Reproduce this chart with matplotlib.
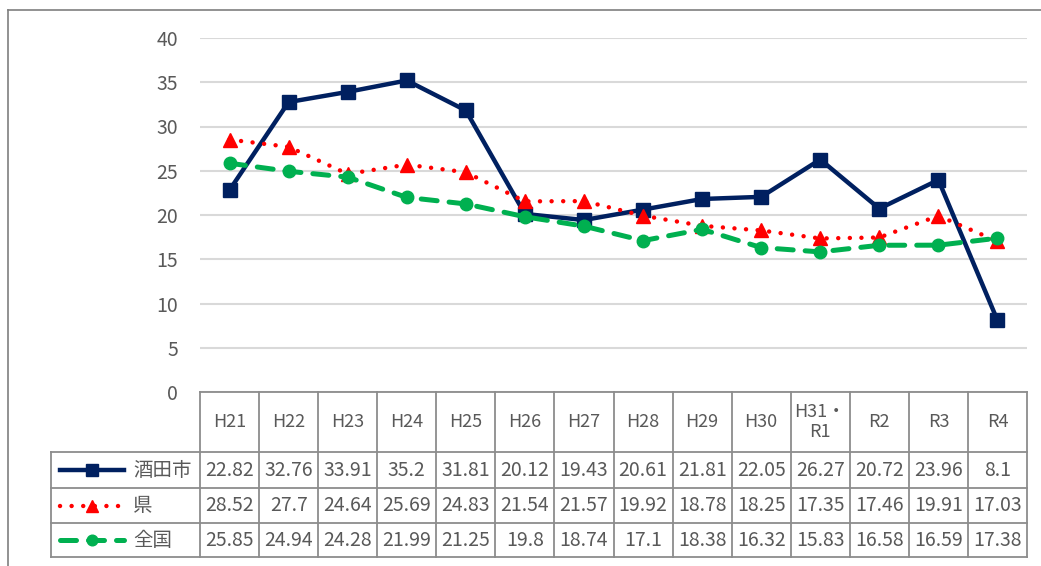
import matplotlib.pyplot as plt
from matplotlib.lines import Line2D

plt.rcParams['font.family'] = ['Noto Sans CJK JP', 'DejaVu Sans']

# data
years = ["H21", "H22", "H23", "H24", "H25", "H26", "H27", "H28", "H29", "H30",
         "H31・\nR1", "R2", "R3", "R4"]
sakata = [22.82, 32.76, 33.91, 35.2, 31.81, 20.12, 19.43, 20.61, 21.81, 22.05,
          26.27, 20.72, 23.96, 8.1]
ken = [28.52, 27.7, 24.64, 25.69, 24.83, 21.54, 21.57, 19.92, 18.78, 18.25,
       17.35, 17.46, 19.91, 17.03]
zenkoku = [25.85, 24.94, 24.28, 21.99, 21.25, 19.8, 18.74, 17.1, 18.38, 16.32,
           15.83, 16.58, 16.59, 17.38]
series_names = ["酒田市", "県", "全国"]
yticks = [0, 5, 10, 15, 20, 25, 30, 35, 40]

NAVY = "#002060"
RED = "#FF0000"
GREEN = "#00B050"
TXT = "#595959"
BORDER = "#8c8c8c"

W, H = 1041, 566
fig = plt.figure(figsize=(W / 100, H / 100), dpi=100)


def fx(px):
    return px / W


def fy(py):
    return 1 - py / H


# plot area in pixels
left, right, top, bottom = 200, 1027, 38, 392
ax = fig.add_axes([fx(left), fy(bottom), fx(right - left), (bottom - top) / H])

styles = [
    dict(color=NAVY, lw=3.2, marker="s", ms=9.5, linestyle="-"),
    dict(color=RED, lw=3.2, marker="^", ms=10, linestyle=(0, (0.01, 2.6)),
         dash_capstyle="round"),
    dict(color=GREEN, lw=3.6, marker="o", ms=9, linestyle=(0, (3.2, 2.4)),
         dash_capstyle="round"),
]
x = list(range(len(years)))
for vals, st in zip([sakata, ken, zenkoku], styles):
    ax.plot(x, vals, zorder=3, **st)

ax.set_xlim(-0.5, len(years) - 0.5)
ax.set_ylim(0, 40)
ax.set_yticks(yticks)
ax.set_xticks([])
ax.grid(axis="y", color="#d9d9d9", lw=1.5)
ax.set_axisbelow(True)
for s in ax.spines.values():
    s.set_visible(False)
ax.tick_params(axis="y", length=0, pad=16, labelsize=14, labelcolor=TXT)

# outer frame (left and top edges)
fig.add_artist(Line2D([fx(8), fx(8)], [fy(10), 0], color="#7f7f7f", lw=1.2))
fig.add_artist(Line2D([fx(8), 1], [fy(10), fy(10)], color="#7f7f7f", lw=1.2))

# data table
fig.canvas.draw()
to_px = ax.transData.transform


def col_px(v):
    # pixel x (from left) of a data x position
    return to_px((v, 0))[0]


row_y = [392, 452, 488, 523, 557]
tbl_left = 51
bounds = [col_px(i - 0.5) for i in range(len(years) + 1)]

# horizontal lines
fig.add_artist(Line2D([fx(bounds[0]), fx(bounds[-1])], [fy(row_y[0])] * 2, color=BORDER, lw=1.3))
for yy in row_y[1:]:
    fig.add_artist(Line2D([fx(tbl_left), fx(bounds[-1])], [fy(yy)] * 2, color=BORDER, lw=1.3))
# vertical lines
fig.add_artist(Line2D([fx(tbl_left)] * 2, [fy(row_y[1]), fy(row_y[-1])], color=BORDER, lw=1.3))
for b in bounds:
    fig.add_artist(Line2D([fx(b)] * 2, [fy(row_y[0]), fy(row_y[-1])], color=BORDER, lw=1.3))

# header
for i, lab in enumerate(years):
    cx = col_px(i)
    cy = (row_y[0] + row_y[1]) / 2
    fig.text(fx(cx), fy(cy), lab, ha="center", va="center", fontsize=13,
             color=TXT, linespacing=1.1)

# rows
for r, (name, vals, st) in enumerate(zip(series_names, [sakata, ken, zenkoku], styles)):
    cy = (row_y[r + 1] + row_y[r + 2]) / 2
    for i, v in enumerate(vals):
        fig.text(fx(col_px(i)), fy(cy), str(v), ha="center", va="center",
                 fontsize=14, color=TXT)
    # legend key
    fig.add_artist(Line2D([fx(60), fx(124)], [fy(cy)] * 2, color=st["color"],
                          lw=st["lw"], linestyle=st["linestyle"],
                          dash_capstyle=st.get("dash_capstyle", "butt")))
    fig.add_artist(Line2D([fx(92)], [fy(cy)], color=st["color"], marker=st["marker"],
                          ms=st["ms"] * 0.85, linestyle="none"))
    fig.text(fx(133), fy(cy), name, ha="left", va="center", fontsize=14, color=TXT)

fig.savefig("out.png", dpi=100)
